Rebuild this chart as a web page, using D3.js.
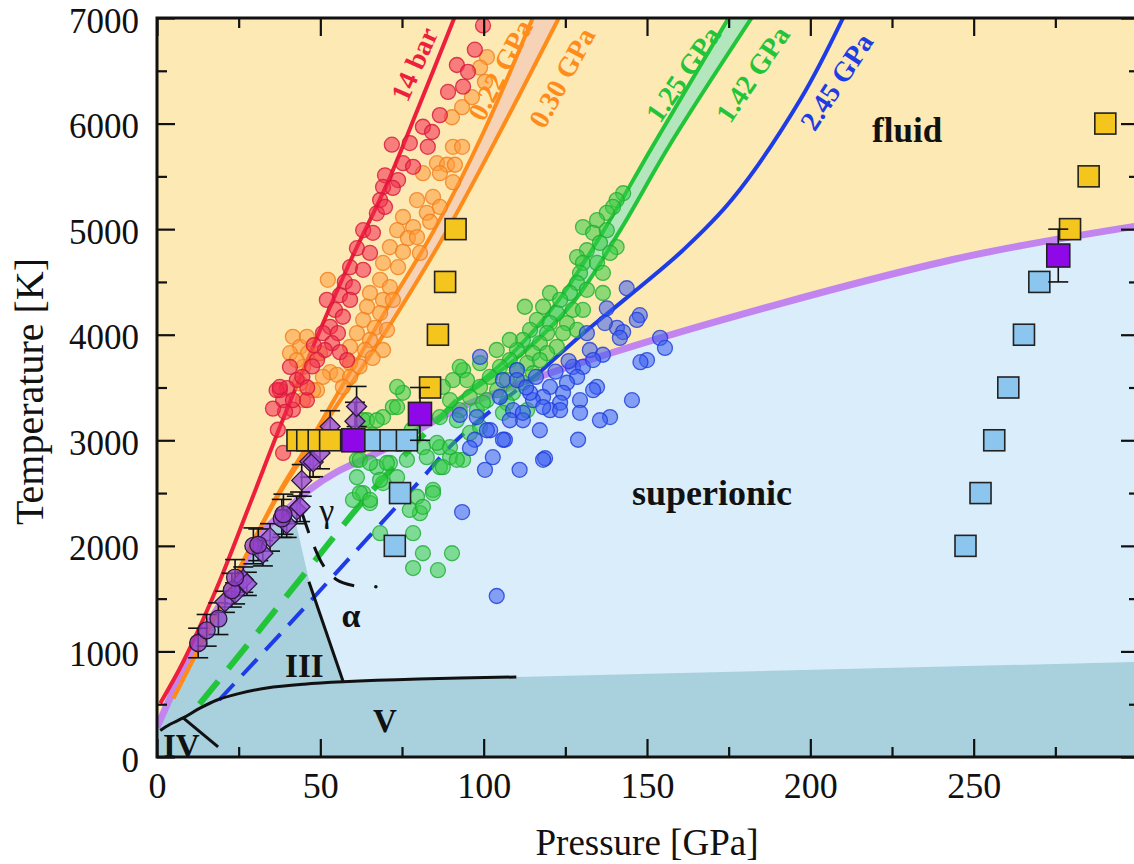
<!DOCTYPE html>
<html>
<head>
<meta charset="utf-8">
<script src="https://cdn.jsdelivr.net/npm/d3@7"></script>
<style>
  body { margin: 0; background: #fff; }
  svg { display: block; }
  text { font-family: "Liberation Serif", "Times New Roman", serif; }
</style>
</head>
<body>
<svg id="chart" width="1134" height="864"></svg>
<script>
// ---------------- data ----------------
const xTicks = [0, 50, 100, 150, 200, 250];
const xMinorTicks = [25, 75, 125, 175, 225, 275];
const yTicks = [0, 1000, 2000, 3000, 4000, 5000, 6000, 7000];
const yMinorTicks = [500, 1500, 2500, 3500, 4500, 5500, 6500];

// melting line (P [GPa], T [K])
const meltP = [0, 4, 8.6, 14, 20, 26, 33, 40, 47, 55, 68, 87, 96, 139, 243, 300];
const meltT = [280, 560, 880, 1180, 1480, 1800, 2150, 2350, 2540, 2700, 2890, 3220, 3353, 3827, 4708, 5030];

// ice V boundary, IV boundary, alpha boundary, gamma boundary
const iceVP = [1, 4, 8, 13, 18.4, 25, 33.6, 45, 57, 80, 110];
const iceVT = [250, 310, 370, 460, 540, 600, 654, 690, 712, 738, 758];
const iceIVP = [8, 18.7];
const iceIVT = [370, 95];
const alphaP = [57, 46.5];
const alphaT = [712, 1660];
const gammaP = [44.3, 47.5, 51, 55, 60, 65];
const gammaT = [2320, 2040, 1810, 1680, 1625, 1610];

// outline of the low-temperature ice region (right side)
const iceEdgeP = [0, 36, 42.5, 46.5, 57, 110, 300, 300, 0];
const iceEdgeT = [2500, 2500, 2220, 1680, 712, 758, 900, 0, 0];

// isentropes
const redT = [510, 900, 1600, 2400, 3270, 4644, 5400, 6150, 7000];
const redP = [1, 8, 18.3, 28.5, 39.5, 58.4, 70, 80, 91];

const orangeT = [556, 1120, 1800, 2460, 3000, 3560, 4200, 5000, 5920, 7000];
const orange022P = [5, 14.3, 25.5, 36.5, 47, 57.5, 69.5, 85, 100, 115];
const orange030P = [5, 14.3, 25.5, 36.8, 48, 60, 73.5, 89, 105, 123];

const greenDashT = [500, 1150, 1730, 2420, 3000, 3380];
const greenDashP = [13, 30, 45, 63, 80, 92];
const greenT = [3380, 3800, 4330, 5000, 5800, 7000];
const green125P = [92, 108, 123, 137, 152, 175];
const green142P = [92, 111, 128, 142, 157, 182];

const blueDashT = [540, 1240, 1920, 2600, 2980, 3350, 3640];
const blueDashP = [19, 40, 60, 80, 91, 105, 117];
const blueT = [3640, 4000, 4330, 4800, 5280, 6230, 7000];
const blueP = [117, 130, 143, 161, 176, 197, 210];

// simulation points [P, T]
const redDots = [[99.8,6930],[97.3,6700],[91.8,6555],[95.2,6490],[93.7,6350],[89.1,6300],[86.6,6080],[81.4,5970],[84.2,5920],[71.9,5800],[77.4,5815],[82.9,5780],[75.3,5625],[78.4,5590],[69.8,5510],[73.8,5465],[69.2,5400],[68.3,5275],[72.2,5390],[67.3,5150],[69.8,5210],[63.1,4990],[66.1,4965],[61.2,4820],[65.2,4775],[59.1,4640],[63.1,4615],[57.5,4500],[60,4450],[56,4375],[59.1,4330],[52,4330],[54.5,4235],[56.9,4170],[53,4075],[55.4,4015],[50.8,4015],[53.6,3920],[56,3835],[51.4,3855],[49,3760],[58.2,3760],[40.7,3695],[42.8,3570],[39.8,3495],[37.6,3475],[45.9,3380],[38.6,3380],[41.6,3290],[36.6,3475],[38.6,2880],[37.6,3505],[41.6,3380],[39.2,3270],[35.5,3300],[37,3100],[47.5,3700],[44.5,3600],[48,3900],[46,3500]];

const orangeDots = [[101,6630],[98.9,6530],[100.4,6395],[96.4,6250],[93.4,6155],[90.3,6060],[90.6,5780],[93.4,5780],[85.7,5625],[88.8,5610],[91.2,5610],[86.6,5530],[90.6,5445],[81.4,5530],[79.6,5275],[84.5,5305],[82.6,5155],[86.6,5210],[83.6,5070],[75.3,5115],[78.4,5020],[73.5,4990],[76.8,4915],[79.6,4925],[71.3,4830],[75.3,4785],[80.5,4775],[69.2,4680],[73.8,4640],[68.3,4520],[71.3,4450],[65.2,4395],[69.2,4330],[72.2,4330],[64.3,4265],[68.3,4205],[63.1,4140],[66.7,4065],[70.4,4045],[61.2,4015],[65.2,3950],[59.1,3885],[63.7,3855],[69.2,3855],[59.1,3730],[53,3645],[50.8,3600],[55.1,3620],[59.1,3600],[56.9,3505],[49,3475],[52.3,4520],[41.6,3980],[43.8,3885],[46.2,3825],[40.7,3825],[44.7,3695],[42.8,3760],[49.9,3825],[45.9,3980],[43.8,3540],[47.8,3475],[44.7,3380],[62,3700],[66,3780]];

const greenDots = [[142.7,5340],[140.7,5275],[139.6,5210],[137.7,5155],[134.7,5085],[130.4,5020],[133.5,4965],[137.7,4990],[135.6,4870],[140.7,4830],[131.6,4800],[138.7,4775],[128.6,4735],[130.4,4680],[134.7,4680],[136.5,4585],[129.5,4585],[128.6,4490],[131.6,4425],[126.4,4395],[136.5,4395],[120.3,4395],[123.4,4330],[118.2,4265],[112.6,4265],[122.4,4205],[127.3,4235],[130.4,4235],[116.3,4140],[120.3,4110],[125.5,4110],[114.2,4045],[119.4,4015],[124.3,4015],[128.6,4045],[112,3950],[117.2,3920],[122.4,3885],[110.2,3855],[115.1,3825],[119.4,3825],[108,3760],[113.3,3730],[117.2,3760],[105,3695],[110.2,3665],[115.1,3635],[101.9,3600],[107.1,3570],[112,3545],[98.9,3505],[104.1,3475],[109,3450],[95.8,3410],[101,3380],[107.1,3355],[93.7,3665],[90.6,3570],[113.3,3285],[97.9,3285],[92.7,3695],[98.9,3730],[104,3855],[108,3950],
[63.1,3190],[69.2,3220],[72.2,3315],[75.3,3450],[61.2,2815],[67.3,2745],[71.3,2785],[73.5,2650],[69.2,2595],[61.2,2650],[63.1,2500],[60,2435],[65.2,2405],[79.6,2465],[80.5,2310],[84.5,2530],[81.4,2935],[86.6,2935],[89.7,2840],[86.6,2745],[95.8,3070],[98.9,3125],[93.7,2815],[92.7,3285],[86.6,3220],[99.8,3355],[105.9,3260],[78.4,2120],[81.4,1930],[78.4,1790],[86,1770],[90.3,1930],[68.3,2120],[94.9,3570],
[64.3,3190],[67.3,3190],[73.5,3315],[62.1,2815],[65.2,2785],[70.4,2785],[76.5,2815],[68.3,2625],[62.1,2500],[65.2,2435],[82.6,2840],[85.7,2975],[89.7,2935],[91.8,2815],[87.5,2745],[91.8,3190],[89.7,3380],[73.5,3505],[87.5,3505],[84.5,2500],[77.4,2340],[81.4,2370],[73.5,3030],[78,3100],[66,3050]];

const blueDots = [[143.8,4440],[137.7,4250],[147.8,4185],[146.9,4140],[140.8,4065],[142.7,4025],[137.1,4110],[141.7,3970],[154,3970],[155.5,3875],[150,3760],[148,3740],[131.6,4015],[127.3,3695],[130.4,3695],[132.5,3855],[136.5,3810],[133.5,3760],[128.6,3600],[134.7,3505],[133.5,3475],[125.5,3545],[124.3,3450],[129.5,3380],[120.3,3505],[123.4,3355],[118.2,3410],[115.1,3380],[120.3,3285],[110.2,3665],[105.9,3570],[98.9,3790],[145.4,3380],[109,3285],[112,3190],[138.7,3220],
[102,3095],[106.5,3005],[111,2720],[118.8,2830],[93.4,2320],[104,1525],[128.9,3005],[117.2,3095],[108,3190],[123.4,3285],[129.5,3260],[135.6,3190],[97.3,3005],[100.4,2720],[95.8,2925],[92.7,3240],[97.9,3220],[105,3410],[110.2,3570],[101,3095],[105.9,3005],[118.2,2815],[118.2,3315],[102.8,2840],[112,3260],[114.2,3450],[113,3500],[116,3600],[122,3650],[126,3750]];

// experimental melting points [P, T, error]
const meltCircles = [[12.6,1080,140],[15.2,1200,150],[18.8,1310,150],[22.9,1580,160],[23.9,1700,170],[29.5,2000,170],[31,2010,150],[38.2,2260,180],[38.7,2300,190]];
const meltDiamonds = [[20.8,1470,100],[23.9,1550,100],[26.4,1680,120],[27.5,1640,110],[32.4,1930,120],[34.6,2080,130],[39.7,2210,130],[42.8,2340,130],[43.8,2370,140],[44.3,2620,150],[46.8,2800,150],[47.8,2795,140],[49.9,2880,150],[53,3130,150],[60.6,3180,180],[61.1,3320,190]];

// square markers [P, T]
const fluidSquares = [[43,3000],[46,3000],[49.5,3000],[53,3000],[83.6,3500],[86,4000],[88.2,4500],[91.4,5000],[279.5,5000],[285.2,5500],[290.3,6000]];
const solidSquares = [[66,3000],[71.5,3000],[76.5,3000],[72.8,2000],[74.4,2500],[247.5,2000],[252.1,2500],[256.3,3000],[260.6,3500],[265.4,4000],[270.1,4500]];
const meltSquares = [[60.1,3000,0],[80.5,3250,250],[275.9,4750,250]];

// ---------------- drawing ----------------
const svg = d3.select("#chart");
const x = d3.scaleLinear().domain([0, 300]).range([157, 1137]);
const y = d3.scaleLinear().domain([0, 7000]).range([757, 18]);

const zip = (ps, ts) => ps.map((p, i) => [p, ts[i]]);
const curve = d3.curveCatmullRom.alpha(0.5);
const lineFn = d3.line().x(d => x(d[0])).y(d => y(d[1])).curve(curve);
const lineLin = d3.line().x(d => x(d[0])).y(d => y(d[1]));

const defs = svg.append("defs");
defs.append("clipPath").attr("id", "plotClip").append("rect")
  .attr("x", x(0)).attr("y", y(7000)).attr("width", x(300) - x(0)).attr("height", y(0) - y(7000));
defs.append("clipPath").attr("id", "iceClip").append("path")
  .attr("d", lineLin(zip(iceEdgeP, iceEdgeT)) + "Z");

const plot = svg.append("g").attr("clip-path", "url(#plotClip)");

// phase regions
plot.append("rect").attr("x", x(0)).attr("y", y(7000))
  .attr("width", x(300) - x(0)).attr("height", y(0) - y(7000)).attr("fill", "#FCE9B4");
const melt = zip(meltP, meltT);
const underMelt = d3.area().x(d => x(d[0])).y0(y(0)).y1(d => y(d[1])).curve(curve);
plot.append("path").attr("d", underMelt(melt)).attr("fill", "#DAEDFB");
plot.append("path").attr("d", underMelt(melt)).attr("fill", "#A9D0DD")
  .attr("clip-path", "url(#iceClip)");

// shaded bands between isentrope pairs
const band = (ts, pa, pb) => d3.area().y(d => y(d[0])).x0(d => x(d[1])).x1(d => x(d[2])).curve(curve)(ts.map((t, i) => [t, pa[i], pb[i]]));
plot.append("path").attr("d", band(orangeT, orange022P, orange030P)).attr("fill", "#F6D3B6");
plot.append("path").attr("d", band(greenT, green125P, green142P)).attr("fill", "#B4E6BE");

// melting line
plot.append("path").attr("d", lineFn(melt)).attr("fill", "none")
  .attr("stroke", "#C285F0").attr("stroke-width", 7);

// isentropes
const drawLine = (pts, color, w, dash) => plot.append("path").attr("d", lineFn(pts))
  .attr("fill", "none").attr("stroke", color).attr("stroke-width", w)
  .attr("stroke-dasharray", dash || null).attr("stroke-linecap", "butt");
drawLine(zip(greenDashP, greenDashT), "#22C53A", 6, "30,16");
drawLine(zip(blueDashP, blueDashT), "#1E3CE6", 4, "22,12");
drawLine(zip(redP, redT), "#EE1F3D", 4);
drawLine(zip(orange022P, orangeT), "#FF8C1A", 4);
drawLine(zip(orange030P, orangeT), "#FF8C1A", 4);
drawLine(zip(green125P, greenT), "#22C53A", 4);
drawLine(zip(green142P, greenT), "#22C53A", 4);
drawLine(zip(blueP, blueT), "#1E3CE6", 4);

// ice phase boundaries
const drawBlack = (pts, dash) => plot.append("path").attr("d", lineFn(pts))
  .attr("fill", "none").attr("stroke", "#111").attr("stroke-width", 3)
  .attr("stroke-dasharray", dash || null);
drawBlack(zip(iceVP, iceVT));
drawBlack(zip(iceIVP, iceIVT));
drawBlack(zip(alphaP, alphaT));
drawBlack(zip(gammaP, gammaT), "22,15");

// simulation scatter
const dots = (data, fill, stroke) => plot.append("g").selectAll("circle").data(data).join("circle")
  .attr("cx", d => x(d[0])).attr("cy", d => y(d[1])).attr("r", 7.5)
  .attr("fill", fill).attr("fill-opacity", 0.55)
  .attr("stroke", stroke).attr("stroke-opacity", 0.8).attr("stroke-width", 1.3);
dots(orangeDots, "#FF9A3C", "#F07E1C");
dots(redDots, "#F2264A", "#D4163A");
dots(greenDots, "#33CC44", "#1EAE30");
dots(blueDots, "#3A5CF0", "#1E3CD8");

// error bars
const errBars = (data) => {
  const g = plot.append("g").attr("stroke", "#111").attr("stroke-width", 1.6);
  data.filter(d => d[2] > 0).forEach(d => {
    const cx = x(d[0]);
    g.append("line").attr("x1", cx).attr("x2", cx).attr("y1", y(d[1] - d[2])).attr("y2", y(d[1] + d[2]));
    [d[1] - d[2], d[1] + d[2]].forEach(t =>
      g.append("line").attr("x1", cx - 10).attr("x2", cx + 10).attr("y1", y(t)).attr("y2", y(t)));
  });
};
errBars(meltCircles);
errBars(meltDiamonds);

plot.append("g").selectAll("path").data(meltDiamonds).join("path")
  .attr("transform", d => `translate(${x(d[0])},${y(d[1])})`)
  .attr("d", "M0,-10L10,0L0,10L-10,0Z")
  .attr("fill", "#9A4ED6").attr("fill-opacity", 0.8).attr("stroke", "#2a1a3a").attr("stroke-width", 1.3);
plot.append("g").selectAll("circle").data(meltCircles).join("circle")
  .attr("cx", d => x(d[0])).attr("cy", d => y(d[1])).attr("r", 8.5)
  .attr("fill", "#9040C8").attr("fill-opacity", 0.75).attr("stroke", "#2a1a3a").attr("stroke-width", 1.3);

// squares
const squares = (data, fill, s) => plot.append("g").selectAll("rect").data(data).join("rect")
  .attr("x", d => x(d[0]) - s / 2).attr("y", d => y(d[1]) - s / 2)
  .attr("width", s).attr("height", s)
  .attr("fill", fill).attr("stroke", "#222").attr("stroke-width", 1.6);
squares(fluidSquares, "#F4C51C", 21);
squares(solidSquares, "#8CC6EE", 21);
errBars(meltSquares);
squares(meltSquares, "#8E08E8", 23);

// line labels
const lineLabels = [
  ["14 bar", "#EE1F3D"], ["0.22 GPa", "#FF8C1A"], ["0.30 GPa", "#FF8C1A"],
  ["1.25 GPa", "#22C53A"], ["1.42 GPa", "#22C53A"], ["2.45 GPa", "#1E3CE6"]
];
const labelPlace = [[78.7, 6564, -66], [105, 6508, -62.6], [123.9, 6436, -61.6],
                    [161, 6470, -55.4], [182.3, 6470, -56], [208, 6397, -56.8]];
lineLabels.forEach((l, i) => {
  const p = labelPlace[i];
  svg.append("text").attr("transform", `translate(${x(p[0])},${y(p[1])}) rotate(${p[2]})`)
    .attr("text-anchor", "middle").attr("dy", "0.35em")
    .attr("font-size", 28).attr("font-weight", "bold").attr("fill", l[1]).text(l[0]);
});

// region labels
const regionText = (t, P, T, size, weight, anchor) => plot.append("text")
  .attr("x", x(P)).attr("y", y(T)).attr("font-size", size).attr("font-weight", weight)
  .attr("text-anchor", anchor || "start").attr("fill", "#111").text(t);
regionText("fluid", 218.9, 5826, 35, "bold");
regionText("superionic", 145.4, 2387, 36, "bold");
regionText("III", 39.2, 758, 33, "bold");
regionText("V", 66.1, 237, 33, "bold");
regionText("IV", 1.8, 0, 33, "bold");
regionText("α", 59.4, 1231, 34, "bold", "middle");
regionText("γ", 52, 2226, 34, "normal", "middle");
plot.append("circle").attr("cx", x(67)).attr("cy", y(1612)).attr("r", 1.8).attr("fill", "#111");

// axes
const styleAxis = (size) => g => {
  g.select(".domain").remove();
  g.selectAll("line").attr("stroke", "#111").attr("stroke-width", 2.2);
  g.selectAll("text").attr("font-size", size).attr("fill", "#111")
    .attr("font-family", "'Liberation Serif','Times New Roman',serif");
};
svg.append("g").attr("transform", `translate(0,${y(0)})`)
  .call(d3.axisBottom(x).tickValues(xTicks).tickFormat(d3.format("d")).tickSizeInner(-18).tickSizeOuter(0).tickPadding(15)).call(styleAxis(36));
svg.append("g").attr("transform", `translate(0,${y(0)})`)
  .call(d3.axisBottom(x).tickValues(xMinorTicks).tickFormat("").tickSizeInner(-10).tickSizeOuter(0)).call(styleAxis(36));
svg.append("g").attr("transform", `translate(0,${y(7000)})`)
  .call(d3.axisTop(x).tickValues(xTicks).tickFormat("").tickSizeInner(-18).tickSizeOuter(0)).call(styleAxis(36));
svg.append("g").attr("transform", `translate(0,${y(7000)})`)
  .call(d3.axisTop(x).tickValues(xMinorTicks).tickFormat("").tickSizeInner(-10).tickSizeOuter(0)).call(styleAxis(36));
svg.append("g").attr("transform", `translate(${x(0)},0)`)
  .call(d3.axisLeft(y).tickValues(yTicks).tickFormat(d3.format("d")).tickSizeInner(-18).tickSizeOuter(0).tickPadding(18)).call(styleAxis(35))
  .selectAll("text").attr("dy", "0.4em");
svg.append("g").attr("transform", `translate(${x(0)},0)`)
  .call(d3.axisLeft(y).tickValues(yMinorTicks).tickFormat("").tickSizeInner(-10).tickSizeOuter(0)).call(styleAxis(35));
svg.append("g").attr("transform", `translate(${x(300)},0)`)
  .call(d3.axisRight(y).tickValues(yTicks).tickFormat("").tickSizeInner(-16).tickSizeOuter(0)).call(styleAxis(35));
svg.append("g").attr("transform", `translate(${x(300)},0)`)
  .call(d3.axisRight(y).tickValues(yMinorTicks).tickFormat("").tickSizeInner(-8).tickSizeOuter(0)).call(styleAxis(35));

svg.append("rect").attr("x", x(0)).attr("y", y(7000))
  .attr("width", x(300) - x(0)).attr("height", y(0) - y(7000))
  .attr("fill", "none").attr("stroke", "#111").attr("stroke-width", 3);

svg.append("text").attr("x", (x(0) + x(300)) / 2).attr("y", 855)
  .attr("text-anchor", "middle").attr("font-size", 37).attr("fill", "#111").text("Pressure [GPa]");
svg.append("text").attr("transform", `translate(43,${(y(0) + y(7000)) / 2 + 4}) rotate(-90)`)
  .attr("text-anchor", "middle").attr("font-size", 40).attr("fill", "#111").text("Temperature [K]");
</script>
</body>
</html>
